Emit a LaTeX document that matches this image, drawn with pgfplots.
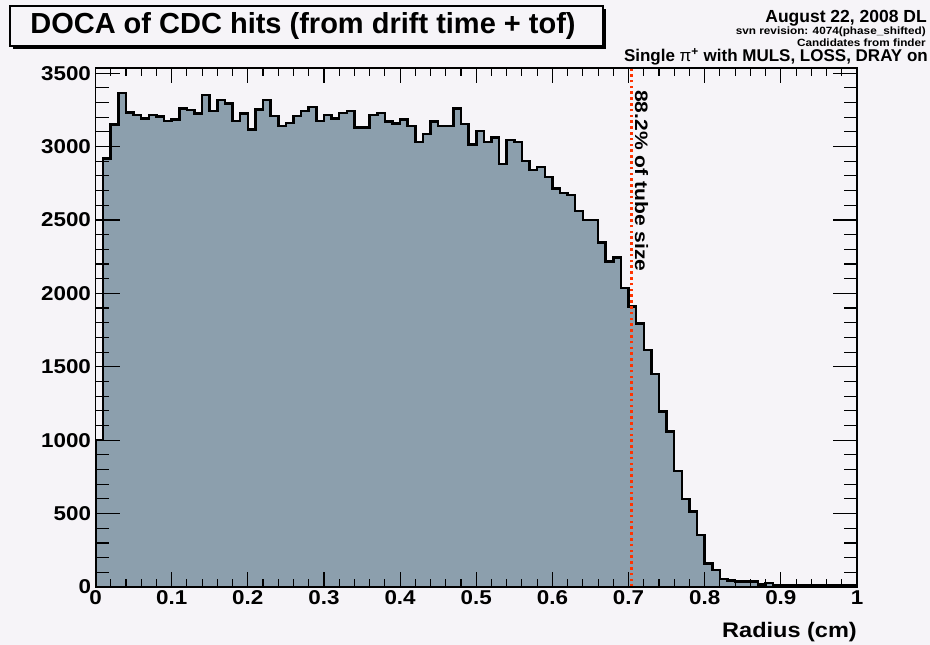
\documentclass[border=0pt]{standalone}
\usepackage{pgfplots}
\pgfplotsset{compat=1.18}
\usepackage{pgfplotstable}
\usepackage{fontspec}
\setmainfont{Liberation Sans}
\newfontfamily\widefont[FakeStretch=1.12]{Liberation Sans}
\newfontfamily\widerfont[FakeStretch=1.17]{Liberation Sans}
\definecolor{padbg}{RGB}{246,244,248}
\definecolor{histfill}{RGB}{140,159,173}
\definecolor{dashred}{RGB}{255,51,0}
\pgfplotstableread{
x y
0.00 1000
0.01 2919
0.02 3150
0.03 3366
0.04 3232
0.05 3214
0.06 3191
0.07 3214
0.08 3203
0.09 3173
0.10 3185
0.11 3260
0.12 3248
0.13 3225
0.14 3350
0.15 3241
0.16 3316
0.17 3293
0.18 3173
0.19 3225
0.20 3116
0.21 3253
0.22 3316
0.23 3207
0.24 3139
0.25 3162
0.26 3207
0.27 3243
0.28 3270
0.29 3173
0.30 3214
0.31 3191
0.32 3230
0.33 3243
0.34 3128
0.35 3128
0.36 3214
0.37 3230
0.38 3169
0.39 3157
0.40 3185
0.41 3139
0.42 3032
0.43 3085
0.44 3169
0.45 3139
0.46 3139
0.47 3260
0.48 3155
0.49 3015
0.50 3107
0.51 3032
0.52 3062
0.53 2880
0.54 3044
0.55 3030
0.56 2901
0.57 2839
0.58 2862
0.59 2794
0.60 2715
0.61 2685
0.62 2669
0.63 2562
0.64 2499
0.65 2499
0.66 2348
0.67 2218
0.68 2245
0.69 2038
0.70 1909
0.71 1795
0.72 1614
0.73 1450
0.74 1194
0.75 1058
0.76 790
0.77 599
0.78 513
0.79 354
0.80 160
0.81 115
0.82 55
0.83 45
0.84 38
0.85 38
0.86 38
0.87 18
0.88 28
0.89 12
0.90 12
0.91 12
0.92 12
0.93 12
0.94 12
0.95 12
0.96 12
0.97 12
0.98 12
0.99 12
1.00 12
}\histdata
\begin{document}
\begin{tikzpicture}
\fill[padbg] (0pt,0pt) rectangle (930pt,645pt);
\useasboundingbox (0pt,0pt) rectangle (930pt,645pt);
% title box with shadow
\fill[black] (13pt,596pt) rectangle (606pt,636pt);
\draw[fill=padbg, line width=1.5pt] (10pt,599pt) rectangle (603pt,639pt);
\node[font=\fontsize{29}{32}\selectfont\bfseries] at (303pt,619pt) {DOCA of CDC hits (from drift time + tof)};
% top right texts
\node[anchor=base east, inner sep=0pt, font=\fontsize{17.5}{20}\selectfont\bfseries] at (927pt,622pt) {August 22, 2008 DL};
\node[anchor=base east, inner sep=0pt, font=\widefont\fontsize{10.5}{12}\selectfont\bfseries] at (926pt,610pt) {svn revision: 4074(phase\_shifted)};
\node[anchor=base east, inner sep=0pt, font=\widefont\fontsize{10.5}{12}\selectfont\bfseries] at (926pt,598.5pt) {Candidates from finder};
\node[anchor=base east, inner sep=0pt, font=\fontsize{17}{20}\selectfont\bfseries] at (928pt,583.3pt) {Single {\mdseries π}\textsuperscript{+} with MULS, LOSS, DRAY on};
\begin{axis}[
  at={(95.5pt,58pt)}, anchor=south west,
  scale only axis, width=761.5pt, height=519pt,
  xmin=0, xmax=1, ymin=0, ymax=3535,
  axis on top,
  axis line style={line width=1.8pt},
  every tick/.style={black, line width=1.1pt},
  xtick={0,0.1,0.2,0.3,0.4,0.5,0.6,0.7,0.8,0.9,1},
  xticklabels={0,0.1,0.2,0.3,0.4,0.5,0.6,0.7,0.8,0.9,1},
  ytick={0,500,1000,1500,2000,2500,3000,3500},
  yticklabels={0,500,1000,1500,2000,2500,3000,3500},
  minor x tick num=4,
  minor y tick num=4,
  tick align=inside,
  xtick style={/pgfplots/major tick length=15pt,/pgfplots/minor tick length=8pt},
  ytick style={/pgfplots/major tick length=24pt,/pgfplots/minor tick length=13pt},
  ticklabel style={font=\widefont\fontsize{20}{24}\selectfont\bfseries},
  yticklabel style={xshift=-1pt},
]
\addplot[const plot, draw=black, line width=2.5pt, fill=histfill] table[x=x,y=y] {\histdata} \closedcycle;
\addplot[dashred, line width=2.6pt, dash pattern=on 2.6pt off 3.2pt] coordinates {(0.704,0) (0.704,3535)};
\end{axis}
\node[rotate=-90, anchor=base west, inner sep=0pt, font=\widerfont\fontsize{18}{22}\selectfont\bfseries] at (635pt,555pt) {88.2\% of tube size};
\node[anchor=base east, inner sep=0pt, font=\widefont\fontsize{21}{24}\selectfont\bfseries] at (857pt,7pt) {Radius (cm)};
\end{tikzpicture}
\end{document}
